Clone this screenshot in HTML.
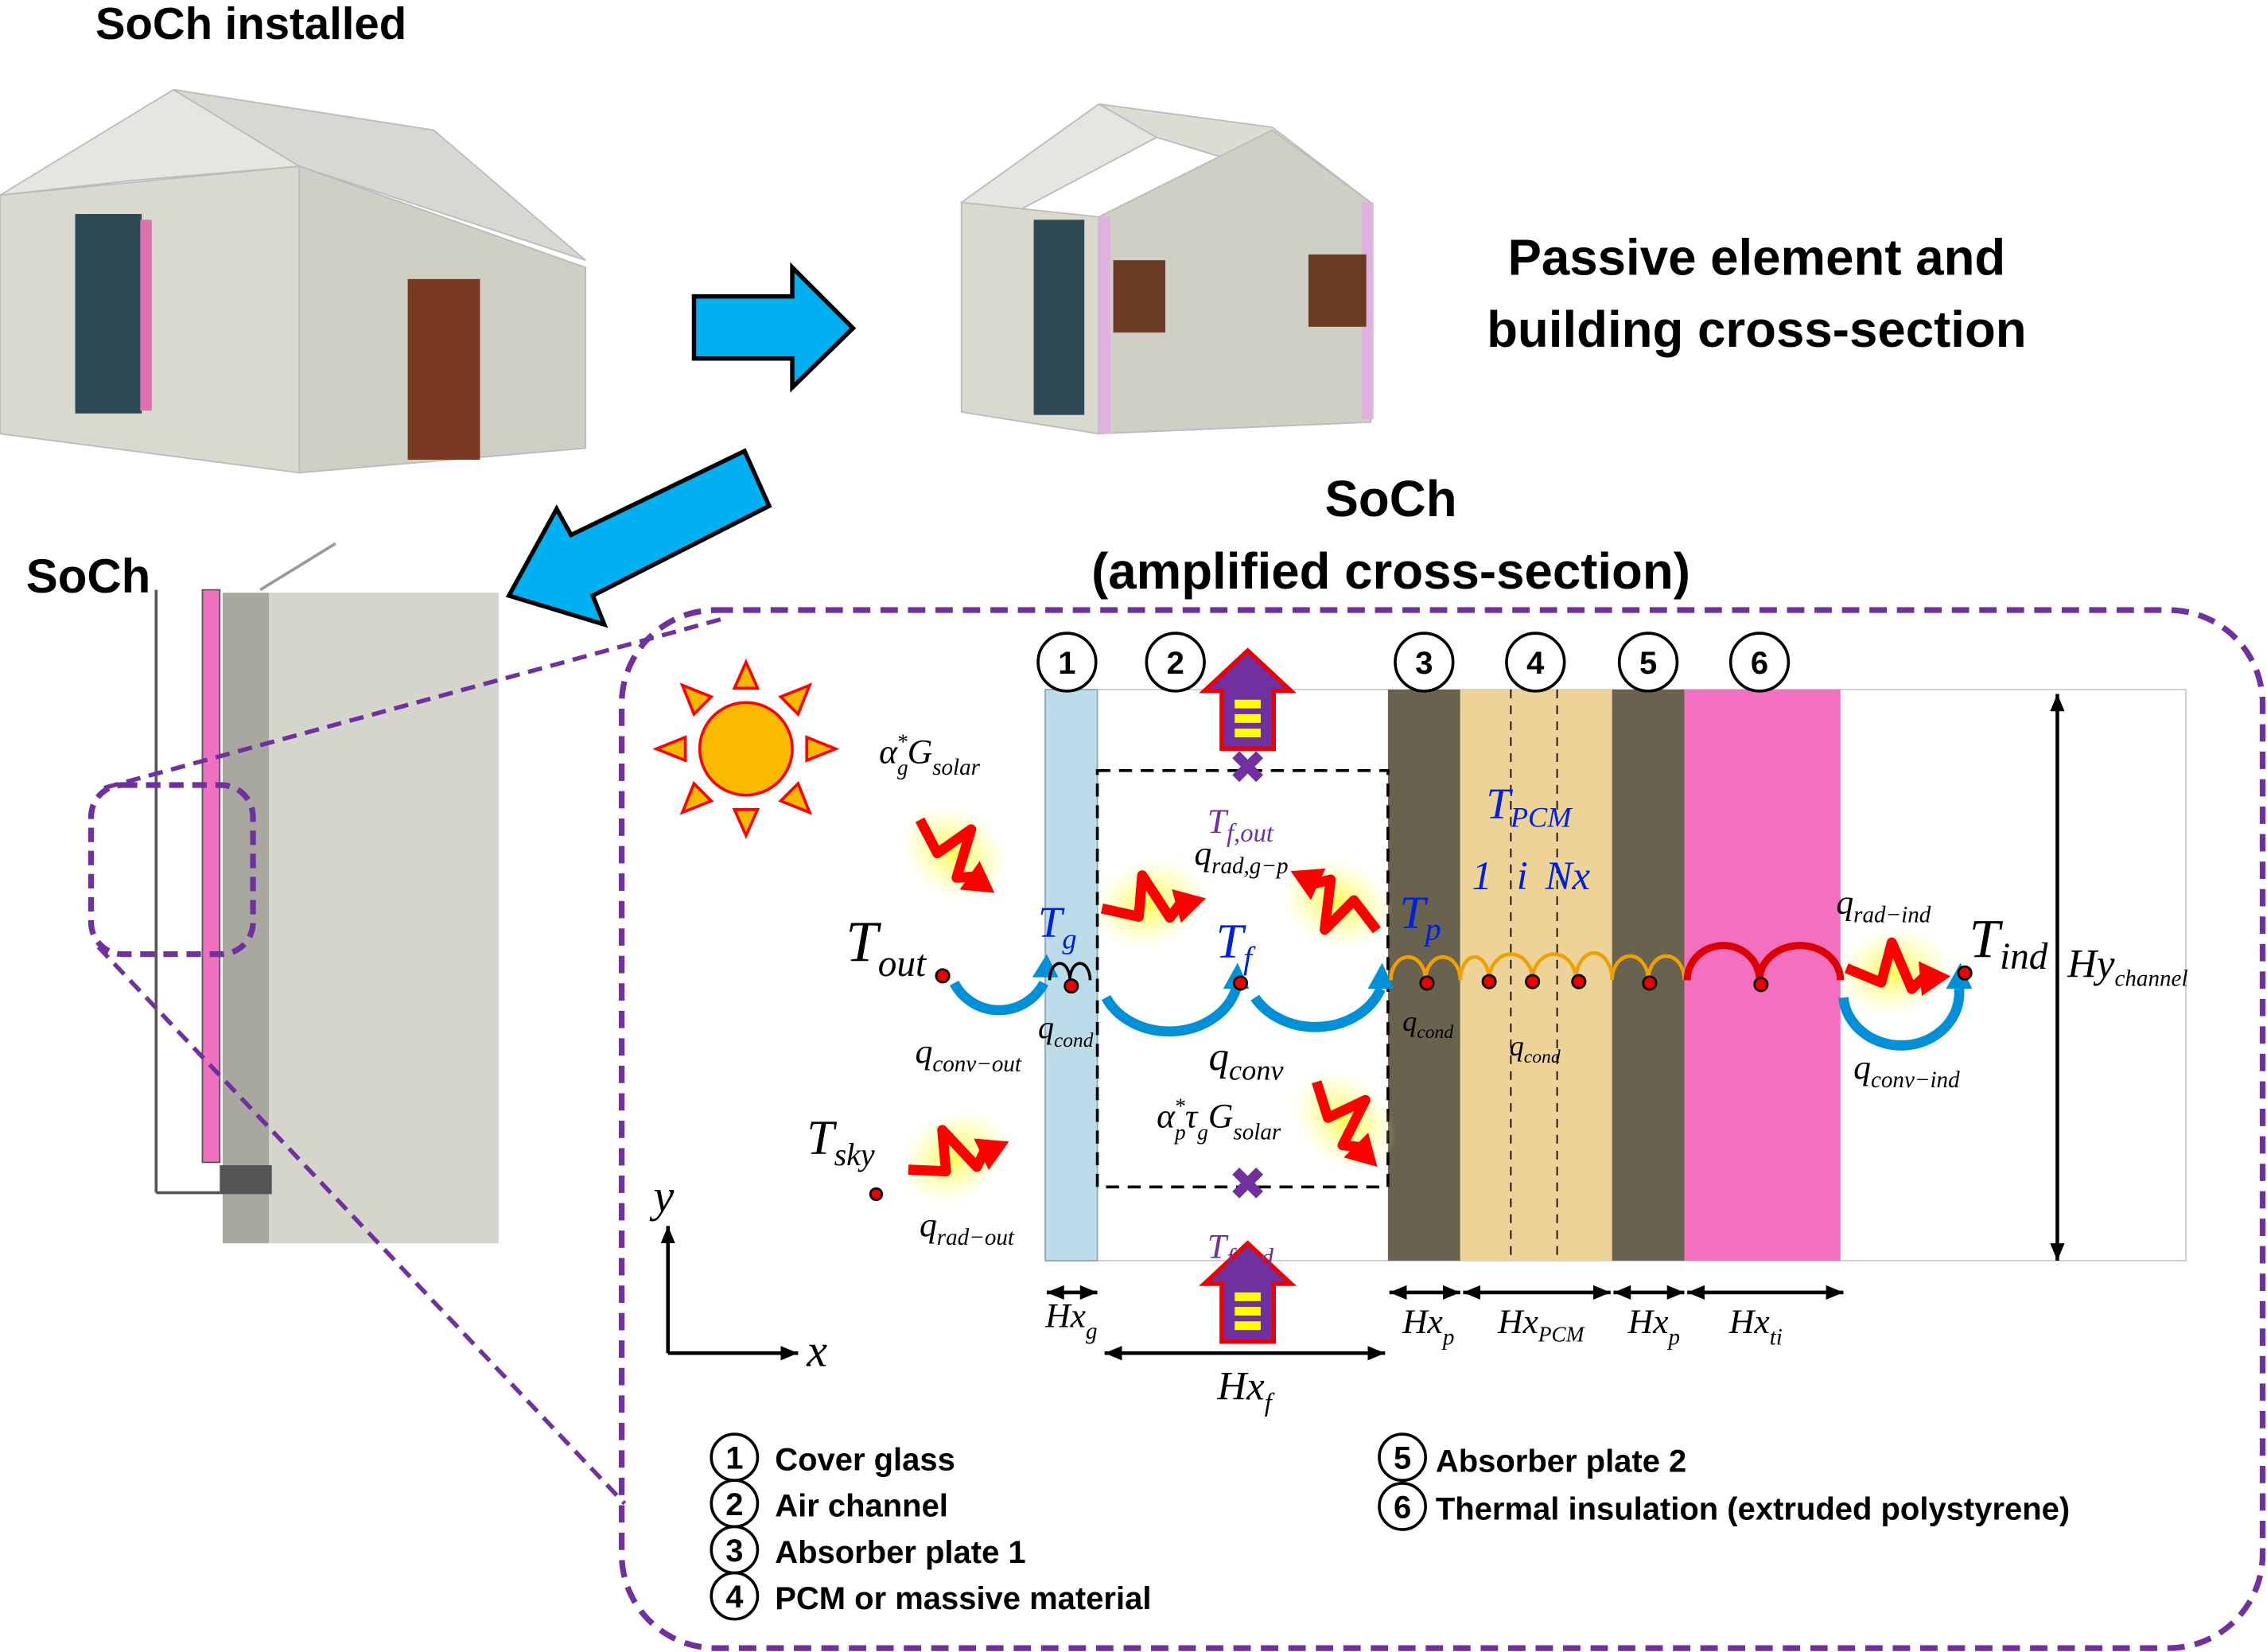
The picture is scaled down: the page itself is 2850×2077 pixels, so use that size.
<!DOCTYPE html>
<html><head><meta charset="utf-8"><style>
html,body{margin:0;padding:0;background:#fff;}
svg{display:block}
.b{font-family:"Liberation Sans",sans-serif;font-weight:bold;}
.m{font-family:"Liberation Serif",serif;font-style:italic;}
</style></head><body>
<svg width="2850" height="2077" viewBox="0 0 1568 1142.7" xmlns="http://www.w3.org/2000/svg">
<defs>
<radialGradient id="glow"><stop offset="0" stop-color="#ffff40" stop-opacity="0.9"/><stop offset="1" stop-color="#ffff80" stop-opacity="0"/></radialGradient>
<marker id="ah" markerUnits="userSpaceOnUse" markerWidth="12" markerHeight="10" refX="12" refY="5" orient="auto"><path d="M0,0 L12,5 L0,10 z" fill="#000"/></marker>
<marker id="ah2" markerUnits="userSpaceOnUse" markerWidth="12" markerHeight="10" refX="0" refY="5" orient="auto"><path d="M12,0 L0,5 L12,10 z" fill="#000"/></marker>
<g id="zig"><ellipse cx="0" cy="0" rx="40" ry="30" fill="url(#glow)"/><path d="M-32,-8 L-10,6 L2,-20 L10,14 L22,6" fill="none" stroke="#f00" stroke-width="7" stroke-linejoin="round"/><path d="M18,-4 L38,10 L16,20 z" fill="#f00"/></g>
<g id="upar"><path d="M-18,0 L-18,-40 L-30,-40 L0,-68 L30,-40 L18,-40 L18,0 z" fill="#7030A0" stroke="#e00" stroke-width="3"/><rect x="-9" y="-34" width="18" height="6" fill="#ff0"/><rect x="-9" y="-24" width="18" height="6" fill="#ff0"/><rect x="-9" y="-14" width="18" height="6" fill="#ff0"/></g>
</defs>

<!-- Titles -->
<text x="66" y="27" class="b" font-size="31">SoCh installed</text>
<text x="1215" y="190" class="b" font-size="35" text-anchor="middle">Passive element and</text>
<text x="1215" y="240" class="b" font-size="35" text-anchor="middle">building cross-section</text>
<text x="18" y="410" class="b" font-size="33">SoCh</text>
<text x="962" y="357" class="b" font-size="35" text-anchor="middle">SoCh</text>
<text x="962" y="407" class="b" font-size="35" text-anchor="middle">(amplified cross-section)</text>

<!-- House 1 -->
<polygon points="0,135 120,62 207,115 90,125" fill="#e6e6e0" stroke="#bbb"/>
<polygon points="120,62 300,90 405,180 207,115" fill="#d8d8d2" stroke="#bbb"/>
<polygon points="0,135 207,115 207,327 0,300" fill="#d9d9d0" stroke="#bbb"/>
<polygon points="207,115 405,185 405,310 207,327" fill="#cfcfc6" stroke="#bbb"/>
<rect x="52" y="148" width="46" height="138" fill="#2f4a55"/>
<rect x="97" y="152" width="8" height="132" fill="#e070b0"/>
<rect x="282" y="193" width="50" height="125" fill="#7a3a22"/>
<!-- Arrow 1 -->
<polygon points="480,205 548,205 548,185 590,227 548,268 548,248 480,248" fill="#00b0f0" stroke="#000" stroke-width="3"/>
<!-- House 2 -->
<polygon points="665,140 760,72 800,95 700,148" fill="#e6e6e0" stroke="#bbb"/>
<polygon points="760,72 880,88 948,140 800,95" fill="#dcdcd5" stroke="#bbb"/>
<polygon points="665,140 760,150 760,300 665,285" fill="#d9d9d0" stroke="#bbb"/>
<polygon points="760,150 880,90 948,140 948,292 760,300" fill="#cfcfc6" stroke="#bbb"/>
<rect x="715" y="152" width="35" height="135" fill="#2f4a55"/>
<rect x="760" y="150" width="8" height="150" fill="#e0b0e0"/>
<rect x="942" y="140" width="8" height="150" fill="#e0b0e0"/>
<rect x="770" y="180" width="36" height="50" fill="#6a3a22"/>
<rect x="905" y="176" width="40" height="50" fill="#6a3a22"/>
<!-- Arrow 2 -->
<polygon points="515,312 532,350 410,412 418,432 352,412 385,352 395,370" fill="#00b0f0" stroke="#000" stroke-width="3"/>

<!-- SoCh wall -->
<rect x="186" y="410" width="159" height="450" fill="#d5d5cc"/>
<rect x="154" y="410" width="32" height="450" fill="#a8a8a0"/>
<rect x="140" y="408" width="12" height="396" fill="#f070c0" stroke="#555"/>
<line x1="108" y1="408" x2="108" y2="825" stroke="#555" stroke-width="2"/>
<line x1="108" y1="825" x2="152" y2="825" stroke="#555" stroke-width="2"/>
<rect x="152" y="806" width="36" height="20" fill="#555"/>
<line x1="180" y1="408" x2="232" y2="376" stroke="#999" stroke-width="2"/>

<!-- dashed callouts -->
<rect x="63" y="543" width="112" height="117" rx="22" fill="none" stroke="#7030A0" stroke-width="4" stroke-dasharray="10,6"/>
<line x1="72" y1="545" x2="500" y2="428" stroke="#7030A0" stroke-width="3" stroke-dasharray="10,6"/>
<line x1="68" y1="655" x2="432" y2="1040" stroke="#7030A0" stroke-width="3" stroke-dasharray="10,6"/>
<rect x="430" y="422" width="1135" height="718" rx="65" fill="none" stroke="#7030A0" stroke-width="4" stroke-dasharray="12,7"/>

<!-- layers -->
<rect x="723" y="477" width="789" height="395" fill="#fff" stroke="#ccc"/>
<rect x="723" y="477" width="36" height="395" fill="#bddcea" stroke="#8ab"/>
<rect x="960" y="477" width="50" height="395" fill="#68624e"/>
<rect x="1010" y="477" width="105" height="395" fill="#edd398"/>
<rect x="1115" y="477" width="50" height="395" fill="#68624e"/>
<rect x="1165" y="477" width="108" height="395" fill="#f370c0"/>
<line x1="1045" y1="477" x2="1045" y2="872" stroke="#000" stroke-dasharray="6,5"/>
<line x1="1077" y1="477" x2="1077" y2="872" stroke="#000" stroke-dasharray="6,5"/>
<rect x="759" y="533" width="201" height="288" fill="none" stroke="#000" stroke-width="2" stroke-dasharray="9,6"/>

<!-- numbers -->
<g font-family="Liberation Sans,sans-serif" font-size="22" text-anchor="middle" font-weight="bold">
<circle cx="738" cy="458" r="20" fill="#fff" stroke="#000" stroke-width="2"/><text x="738" y="466">1</text>
<circle cx="813" cy="458" r="20" fill="#fff" stroke="#000" stroke-width="2"/><text x="813" y="466">2</text>
<circle cx="985" cy="458" r="20" fill="#fff" stroke="#000" stroke-width="2"/><text x="985" y="466">3</text>
<circle cx="1062" cy="458" r="20" fill="#fff" stroke="#000" stroke-width="2"/><text x="1062" y="466">4</text>
<circle cx="1140" cy="458" r="20" fill="#fff" stroke="#000" stroke-width="2"/><text x="1140" y="466">5</text>
<circle cx="1217" cy="458" r="20" fill="#fff" stroke="#000" stroke-width="2"/><text x="1217" y="466">6</text>
</g>

<!-- sun -->
<g transform="translate(516,518)">
<g fill="#f7b800" stroke="#f00" stroke-width="2">
<polygon points="-8,-42 8,-42 0,-60"/><polygon points="-8,42 8,42 0,60"/><polygon points="-42,-8 -42,8 -62,0"/><polygon points="42,-8 42,8 62,0"/>
<polygon points="-36,-24 -24,-36 -44,-44"/><polygon points="36,-24 24,-36 44,-44"/><polygon points="-36,24 -24,36 -44,44"/><polygon points="36,24 24,36 44,44"/>
</g>
<circle r="32" fill="#fbba00" stroke="#f00" stroke-width="2"/>
</g>

<!-- zigzags -->
<use href="#zig" transform="translate(660,590) rotate(30)"/>
<use href="#zig" transform="translate(660,800) rotate(-30)"/>
<use href="#zig" transform="translate(795,625) rotate(-20)"/>
<use href="#zig" transform="translate(925,625) rotate(200)"/>
<use href="#zig" transform="translate(930,775) rotate(40)"/>
<use href="#zig" transform="translate(1310,672) rotate(-10)"/>

<!-- up arrows and crosses -->
<use href="#upar" transform="translate(863,518)"/>
<use href="#upar" transform="translate(863,928)"/>
<text x="863" y="542" font-size="32" fill="#7030A0" text-anchor="middle" font-family="DejaVu Sans,sans-serif" font-weight="bold">✖</text>
<text x="863" y="830" font-size="32" fill="#7030A0" text-anchor="middle" font-family="DejaVu Sans,sans-serif" font-weight="bold">✖</text>

<!-- convection arrows -->
<g fill="none" stroke="#0090d8" stroke-width="7">
<path d="M660,680 A35,35 0 0 0 722,680"/>
<path d="M765,690 A48,40 0 0 0 855,684"/>
<path d="M868,690 A48,40 0 0 0 955,684"/>
<path d="M1275,690 A40,36 0 0 0 1355,684"/>
</g>
<g fill="#0090d8"><polygon points="714,676 732,676 724,660"/><polygon points="846,684 864,684 856,666"/><polygon points="946,684 964,684 956,666"/><polygon points="1346,684 1364,684 1356,666"/></g>
<!-- cond arcs -->
<g fill="none" stroke="#f0a000" stroke-width="2.5">
<path d="M962,678 A12,16 0 0 1 986,678 A12,16 0 0 1 1010,678 A10,16 0 0 1 1030,678 A15,18 0 0 1 1060,678 A15,18 0 0 1 1090,678 A12,18 0 0 1 1115,678 A12,16 0 0 1 1140,678 A12,16 0 0 1 1165,678"/>
</g>
<g fill="none" stroke="#d00" stroke-width="5">
<path d="M1167,678 A25,24 0 0 1 1217,678 A28,24 0 0 1 1273,678"/>
</g>
<path d="M726,678 A6,10 0 0 1 740,678 A6,10 0 0 1 754,678" fill="none" stroke="#000" stroke-width="2"/>
<!-- nodes -->
<g fill="#e00" stroke="#000" stroke-width="1.5">
<circle cx="652" cy="675" r="4.5"/><circle cx="741" cy="682" r="4.5"/><circle cx="858" cy="680" r="4.5"/>
<circle cx="987" cy="680" r="4.5"/><circle cx="1030" cy="679" r="4.5"/><circle cx="1060" cy="679" r="4.5"/><circle cx="1092" cy="679" r="4.5"/>
<circle cx="1141" cy="680" r="4.5"/><circle cx="1218" cy="681" r="4.5"/><circle cx="1359" cy="673" r="4.5"/><circle cx="606" cy="826" r="4"/>
</g>

<!-- math labels -->
<g class="m">
<text x="608" y="528" font-size="24">α<tspan font-size="15" dy="8">g</tspan><tspan font-size="15" dx="-8" dy="-18">*</tspan><tspan dy="10">G</tspan><tspan font-size="16" dy="8">solar</tspan></text>
<text x="585" y="665" font-size="40">T<tspan font-size="26" dy="10">out</tspan></text>
<text x="718" y="648" font-size="30" fill="#0020e0">T<tspan font-size="20" dy="8">g</tspan></text>
<text x="841" y="662" font-size="34" fill="#0020e0">T<tspan font-size="22" dy="8">f</tspan></text>
<text x="968" y="642" font-size="32" fill="#0020e0">T<tspan font-size="22" dy="8">p</tspan></text>
<text x="1028" y="566" font-size="30" fill="#0020e0">T<tspan font-size="20" dy="6">PCM</tspan></text>
<text x="1018" y="615" font-size="28" fill="#0020e0">1 <tspan dx="10">i</tspan><tspan dx="12">Nx</tspan></text>
<text x="835" y="576" font-size="24" fill="#7030A0">T<tspan font-size="18" dy="6">f,out</tspan></text>
<text x="835" y="870" font-size="24" fill="#7030A0">T<tspan font-size="18" dy="6">f,ind</tspan></text>
<text x="826" y="598" font-size="24">q<tspan font-size="16" dy="6">rad,g−p</tspan></text>
<text x="633" y="735" font-size="24">q<tspan font-size="16" dy="6">conv−out</tspan></text>
<text x="718" y="718" font-size="22">q<tspan font-size="14" dy="6">cond</tspan></text>
<text x="836" y="740" font-size="28">q<tspan font-size="20" dy="7">conv</tspan></text>
<text x="800" y="780" font-size="24">α<tspan font-size="15" dy="8">p</tspan><tspan font-size="15" dx="-8" dy="-18">*</tspan><tspan dy="10">τ</tspan><tspan font-size="15" dy="8">g</tspan><tspan dy="-8">G</tspan><tspan font-size="16" dy="8">solar</tspan></text>
<text x="558" y="798" font-size="34">T<tspan font-size="22" dy="8">sky</tspan></text>
<text x="636" y="855" font-size="24">q<tspan font-size="16" dy="6">rad−out</tspan></text>
<text x="970" y="713" font-size="20">q<tspan font-size="13" dy="5">cond</tspan></text>
<text x="1044" y="730" font-size="20">q<tspan font-size="13" dy="5">cond</tspan></text>
<text x="1270" y="632" font-size="24">q<tspan font-size="16" dy="6">rad−ind</tspan></text>
<text x="1282" y="746" font-size="24">q<tspan font-size="16" dy="6">conv−ind</tspan></text>
<text x="1362" y="662" font-size="38">T<tspan font-size="26" dy="8">ind</tspan></text>
<text x="1430" y="676" font-size="28">Hy<tspan font-size="16" dy="6">channel</tspan></text>
<text x="723" y="918" font-size="24">Hx<tspan font-size="16" dy="8">g</tspan></text>
<text x="842" y="968" font-size="28">Hx<tspan font-size="18" dy="8">f</tspan></text>
<text x="970" y="922" font-size="24">Hx<tspan font-size="16" dy="8">p</tspan></text>
<text x="1036" y="922" font-size="24">Hx<tspan font-size="15" dy="6">PCM</tspan></text>
<text x="1126" y="922" font-size="24">Hx<tspan font-size="16" dy="8">p</tspan></text>
<text x="1196" y="922" font-size="24">Hx<tspan font-size="16" dy="8">ti</tspan></text>
<text x="452" y="838" font-size="32">y</text>
<text x="558" y="945" font-size="32">x</text>
</g>

<!-- dimension arrows -->
<g stroke="#000" stroke-width="2.5" marker-end="url(#ah)" marker-start="url(#ah2)">
<line x1="1423" y1="480" x2="1423" y2="872"/>
<line x1="724" y1="894" x2="759" y2="894"/>
<line x1="764" y1="936" x2="958" y2="936"/>
<line x1="961" y1="894" x2="1010" y2="894"/>
<line x1="1012" y1="894" x2="1114" y2="894"/>
<line x1="1116" y1="894" x2="1165" y2="894"/>
<line x1="1167" y1="894" x2="1275" y2="894"/>
</g>
<g stroke="#000" stroke-width="2.5" marker-end="url(#ah)">
<line x1="462" y1="936" x2="462" y2="848"/>
<line x1="462" y1="936" x2="552" y2="936"/>
</g>

<!-- legend -->
<g font-family="Liberation Sans,sans-serif" font-weight="bold" font-size="22">
<g text-anchor="middle">
<circle cx="508" cy="1008" r="16" fill="#fff" stroke="#000" stroke-width="2"/><text x="508" y="1016">1</text>
<circle cx="508" cy="1040" r="16" fill="#fff" stroke="#000" stroke-width="2"/><text x="508" y="1048">2</text>
<circle cx="508" cy="1072" r="16" fill="#fff" stroke="#000" stroke-width="2"/><text x="508" y="1080">3</text>
<circle cx="508" cy="1104" r="16" fill="#fff" stroke="#000" stroke-width="2"/><text x="508" y="1112">4</text>
<circle cx="970" cy="1008" r="16" fill="#fff" stroke="#000" stroke-width="2"/><text x="970" y="1016">5</text>
<circle cx="970" cy="1042" r="16" fill="#fff" stroke="#000" stroke-width="2"/><text x="970" y="1050">6</text>
</g>
<text x="536" y="1017">Cover glass</text>
<text x="536" y="1049">Air channel</text>
<text x="536" y="1081">Absorber plate 1</text>
<text x="536" y="1113">PCM or massive material</text>
<text x="993" y="1018">Absorber plate 2</text>
<text x="993" y="1051">Thermal insulation (extruded polystyrene)</text>
</g>
</svg>
</body></html>
